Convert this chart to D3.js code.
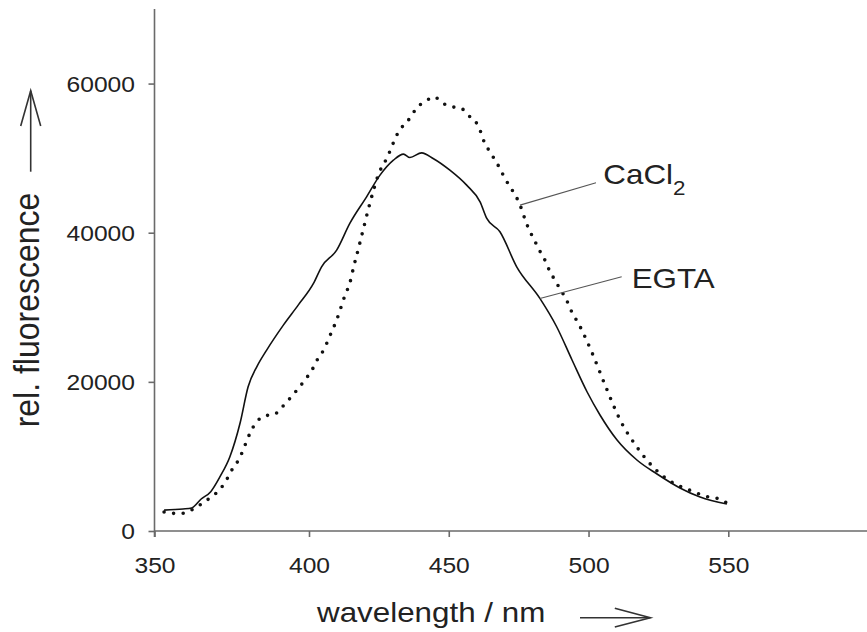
<!DOCTYPE html>
<html><head><meta charset="utf-8">
<script src="https://cdn.jsdelivr.net/npm/d3@7"></script>
<style>html,body{margin:0;padding:0;background:#fff}svg{display:block}</style>
</head><body>
<svg id="c" width="867" height="632"></svg>
<script>
// ---- data ----
const xTicks = [350, 400, 450, 500, 550];
const yTicks = [0, 20000, 40000, 60000];
const egtaWl = [353.1,359.2,362.0,365.1,368.2,371.2,374.4,377.7,380.3,383.1,386.3,391.7,396.5,401.6,404.5,409.9,414.6,420.6,425.4,430.2,433.8,436.1,440.3,444.4,450.4,456.4,461.2,463.6,468.3,474.3,482.6,488.6,494.1,499.5,504.1,510.2,517.3,524.5,532.7,539.9,549.5];
const egtaVal = [2800,2950,3080,4290,5270,7280,9960,14480,19340,22020,24260,27610,30290,33200,35430,37670,41250,44810,47720,49730,50540,50090,50710,49960,48390,46380,44140,41920,40120,35430,31190,27390,22930,18640,15560,12200,9520,7640,5770,4560,3620];
const cacl2Wl = [353.1,356.1,359.2,362.0,365.2,368.2,371.2,373.4,375.1,377.2,378.6,379.8,381.1,382.9,385.7,388.7,391.4,394.2,396.6,399.1,401.2,402.9,405.2,406.7,408.1,409.6,410.8,411.9,413.0,414.5,416.0,417.7,419.5,421.3,423.1,425.2,426.9,428.7,431.4,433.8,436.5,438.3,441.5,444.7,448.0,451.4,454.6,456.9,459.4,461.2,462.3,464.1,466.2,468.1,469.8,471.9,474.0,475.5,477.9,479.4,481.2,482.9,484.7,486.2,488.0,490.0,491.9,493.4,497.0,501.6,505.9,511.3,517.3,523.1,529.1,535.2,541.7,547.7,549.5];
const cacl2Val = [2550,2370,2370,2815,3620,4520,5590,6930,8230,9520,10760,12040,13290,14550,15440,15620,16670,17960,19150,20470,21680,22920,24260,25470,26720,28020,29260,30520,31750,33100,35450,37900,40580,43260,45710,48160,49300,50710,53080,54420,55540,56660,57550,58220,57330,56880,56660,55760,55000,53750,52510,51210,49960,48750,47490,46150,44910,43700,41150,39910,38570,37310,36100,34760,33650,32310,31190,29850,27390,23600,19580,14890,11260,8580,6700,5630,4690,4160,3750];
const xLabel = "wavelength / nm";
const yLabel = "rel. fluorescence";

// ---- drawing ----
const svg = d3.select("#c");
const FONT = "'Liberation Sans', Arial, Helvetica, sans-serif";
const SX = 1.12;
// the original axis is not uniform: 350 sits at the axis origin
const x = d3.scaleLinear().domain([350, 400, 550]).range([154.5, 309, 728.3]);
const y = d3.scaleLinear().domain([0, 70000]).range([531, 9]);
const axisCol = "#6a6a6a";

// axis lines
svg.append("line").attr("x1", x(350)).attr("x2", 867).attr("y1", y(0)).attr("y2", y(0))
  .attr("stroke", axisCol).attr("stroke-width", 1.6);
svg.append("line").attr("x1", x(350)).attr("x2", x(350)).attr("y1", y(70000)).attr("y2", y(0) + 6)
  .attr("stroke", axisCol).attr("stroke-width", 1.6);

const gx = svg.append("g").attr("transform", `translate(0,${y(0)})`)
  .call(d3.axisBottom(x).tickValues(xTicks).tickSize(6).tickSizeOuter(0).tickFormat(d3.format("d")));
gx.select(".domain").remove();
gx.selectAll(".tick line").attr("stroke", axisCol).attr("stroke-width", 1.6);
gx.selectAll(".tick text").attr("y", 0).attr("dy", 0)
  .attr("transform", "translate(0,42) scale(" + SX + ",1)")
  .attr("font-family", FONT).attr("font-size", 22).attr("fill", "#222");

const gy = svg.append("g").attr("transform", `translate(${x(350)},0)`)
  .call(d3.axisLeft(y).tickValues(yTicks).tickSize(6).tickSizeOuter(0).tickFormat(d3.format("d")));
gy.select(".domain").remove();
gy.selectAll(".tick line").attr("stroke", axisCol).attr("stroke-width", 1.6);
gy.selectAll(".tick text").attr("x", 0).attr("dy", "0.35em")
  .attr("transform", "translate(-19.5,0) scale(" + SX + ",1)")
  .attr("font-family", FONT).attr("font-size", 22).attr("fill", "#222").attr("text-anchor", "end");

// curves
const egta = egtaWl.map((w, i) => [w, egtaVal[i]]);
const cacl2 = cacl2Wl.map((w, i) => [w, cacl2Val[i]]);
const line = d3.line().x(d => x(d[0])).y(d => y(d[1])).curve(d3.curveMonotoneX);

svg.append("path").attr("d", line(cacl2)).attr("fill", "none")
  .attr("stroke", "#111").attr("stroke-width", 3.6).attr("stroke-linecap", "round")
  .attr("stroke-dasharray", "0 9.6");
svg.append("path").attr("d", line(egta)).attr("fill", "none")
  .attr("stroke", "#111").attr("stroke-width", 1.6).attr("stroke-linejoin", "round");

// leader lines (anchored to data points)
const leadC = [475.5, 43700], leadE = [482.6, 31190];
svg.append("line").attr("x1", x(leadC[0])).attr("y1", y(leadC[1])).attr("x2", 596).attr("y2", 182.7)
  .attr("stroke", "#555").attr("stroke-width", 1.1);
svg.append("line").attr("x1", x(leadE[0])).attr("y1", y(leadE[1])).attr("x2", 621.7).attr("y2", 276.7)
  .attr("stroke", "#555").attr("stroke-width", 1.1);

// series labels
const tC = svg.append("text").attr("transform", "translate(603.3,184.3) scale(" + SX + ",1)")
  .attr("font-family", FONT).attr("font-size", 28).attr("fill", "#222");
tC.append("tspan").text("CaCl");
tC.append("tspan").attr("font-size", 20).attr("dy", 10.5).text("2");
svg.append("text").attr("transform", "translate(631.7,288.3) scale(" + SX + ",1)")
  .attr("font-family", FONT).attr("font-size", 28).attr("fill", "#222").text("EGTA");

// axis titles
svg.append("text").attr("transform", "translate(317,622) scale(" + SX + ",1)")
  .attr("font-family", FONT).attr("font-size", 28).attr("fill", "#222").text(xLabel);
svg.append("text").attr("transform", "translate(39.3,310) scale(" + SX + ",1) rotate(-90)")
  .attr("font-family", FONT).attr("font-size", 32).attr("fill", "#222")
  .attr("text-anchor", "middle").text(yLabel);

// arrows
const arrowCol = "#333";
const ax = svg.append("g").attr("stroke", arrowCol).attr("stroke-width", 1.6).attr("fill", "none");
ax.append("line").attr("x1", 580).attr("y1", 617.7).attr("x2", 650.4).attr("y2", 617.7);
ax.append("polyline").attr("points", "614.8,608.3 650.4,617.7 614.8,627");
ax.append("line").attr("x1", 30.7).attr("y1", 171.7).attr("x2", 30.7).attr("y2", 90.7);
ax.append("polyline").attr("points", "20.7,126 30.7,90.7 40.7,126");
</script>
</body></html>
